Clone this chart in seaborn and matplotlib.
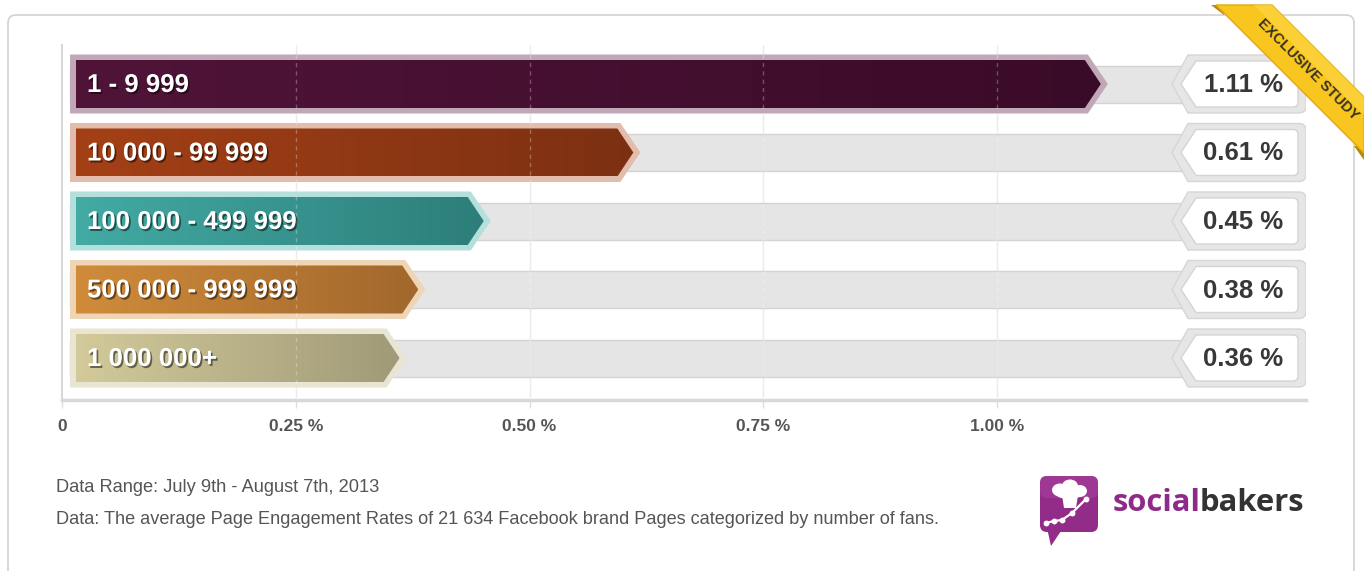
import numpy as np
import pandas as pd
import matplotlib
matplotlib.use("Agg")
import matplotlib.pyplot as plt
import seaborn as sns
from matplotlib.patches import Polygon, FancyBboxPatch, Ellipse, PathPatch
from matplotlib.path import Path
from matplotlib.colors import to_rgb
import matplotlib.patheffects as pe

# ---------------- data ----------------
categories = ["1 - 9 999", "10 000 - 99 999", "100 000 - 499 999",
              "500 000 - 999 999", "1 000 000+"]
values = [1.11, 0.61, 0.45, 0.38, 0.36]
value_labels = ["1.11 %", "0.61 %", "0.45 %", "0.38 %", "0.36 %"]
tick_values = [0, 0.25, 0.50, 0.75, 1.00]
tick_labels = ["0", "0.25 %", "0.50 %", "0.75 %", "1.00 %"]
range_note = "Data Range: July 9th - August 7th, 2013"
data_note = ("Data: The average Page Engagement Rates of 21 634 Facebook brand "
             "Pages categorized by number of fans.")
ribbon_text = "EXCLUSIVE STUDY"
brand_a = "social"
brand_b = "bakers"

# ---------------- styles ----------------
grad_left = ["#501439", "#a44016", "#43aaa4", "#d08c3b", "#d2ca9a"]
grad_right = ["#3a0b28", "#7c3012", "#2d7e7a", "#a1672c", "#a09a78"]
border_cols = ["#c0a8b8", "#e2bcac", "#b4dfdb", "#edd5b5", "#e8e5d2"]

sns.set_theme(style="white")
plt.rcParams['font.family'] = ['Liberation Sans', 'DejaVu Sans']

W, H = 1364, 571
fig = plt.figure(figsize=(W / 100, H / 100), dpi=100)
fig.patch.set_facecolor('white')

AX_L, AX_R, AX_T, AX_B = 62, 1306, 45, 400
PXX = 935.0   # pixels per 1.0 %
PXY = 68.5    # pixels per category step
ax = fig.add_axes([AX_L / W, 1 - AX_B / H, (AX_R - AX_L) / W, (AX_B - AX_T) / H])


def dx(p):
    return p / PXX


def dy(p):
    return p / PXY


def tag_path(xt, xs, xr, yc, h, rx, ry):
    """Left-pointing tag with rounded right corners (data coords)."""
    verts = [(xt, yc), (xs, yc - h), (xr - rx, yc - h), (xr, yc - h),
             (xr, yc - h + ry), (xr, yc + h - ry), (xr, yc + h),
             (xr - rx, yc + h), (xs, yc + h), (xt, yc)]
    codes = [Path.MOVETO, Path.LINETO, Path.LINETO, Path.CURVE3, Path.CURVE3,
             Path.LINETO, Path.CURVE3, Path.CURVE3, Path.LINETO, Path.CLOSEPOLY]
    return Path(verts, codes)


df = pd.DataFrame({"category": categories, "value": values})
sns.barplot(data=df, x="value", y="category", orient="h", ax=ax,
            color="#000000", width=0.8)
bars = list(ax.patches)

xlim = (0, dx(AX_R - AX_L))
ylim = (4 + dy(AX_B - 358), -dy(84 - AX_T))

renderer = fig.canvas.get_renderer()


def fit(t, target):
    w = t.get_window_extent(renderer=renderer).width
    t.set_fontsize(t.get_fontsize() * target / w)


x_track_end = dx(1300 - AX_L)
for i, bar in enumerate(bars):
    yc = bar.get_y() + bar.get_height() / 2
    v = bar.get_width()
    bar.set_visible(False)
    x0 = dx(8)
    # gray track
    th = dy(18.5)
    ax.add_patch(Polygon([(x0, yc - th), (x_track_end, yc - th),
                          (x_track_end, yc + th), (x0, yc + th)],
                         closed=True, fc="#e5e5e5", ec="#d4d4d4", lw=1, zorder=2))
    # outer (light) arrow
    tip = x0 + v
    oh = dy(29.5)
    s = dx(20)
    ax.add_patch(Polygon([(x0, yc - oh), (tip - s, yc - oh), (tip, yc),
                          (tip - s, yc + oh), (x0, yc + oh)],
                         closed=True, fc=border_cols[i], ec='none', zorder=3))
    # inner gradient arrow
    ih = dy(24)
    xi = x0 + dx(6)
    tip_in = tip - dx(7)
    s_in = dx(16)
    inner = Polygon([(xi, yc - ih), (tip_in - s_in, yc - ih), (tip_in, yc),
                     (tip_in - s_in, yc + ih), (xi, yc + ih)],
                    closed=True, fc='none', ec='none', zorder=4)
    ax.add_patch(inner)
    g = np.linspace(0, 1, 256)
    c0 = np.array(to_rgb(grad_left[i]))
    c1 = np.array(to_rgb(grad_right[i]))
    img = (c0[None, :] * (1 - g)[:, None] + c1[None, :] * g[:, None])[None, :, :]
    im = ax.imshow(img, extent=[xi, tip_in, yc + ih, yc - ih], aspect='auto',
                   interpolation='bilinear', zorder=4)
    im.set_clip_path(inner)
    # category label
    ax.text(dx(87 - AX_L), yc + dy(1), categories[i], color='white',
            fontsize=18.6, fontweight='bold', va='center', ha='left', zorder=7,
            path_effects=[pe.withSimplePatchShadow(offset=(1.2, -1.4),
                                                   shadow_rgbFace=(0, 0, 0),
                                                   alpha=0.5)])
    # value box
    bh = dy(29)
    ax.add_patch(PathPatch(tag_path(dx(1172 - AX_L), dx(1188 - AX_L),
                                    dx(1306 - AX_L), yc, bh, dx(7), dy(7)),
                           fc="#e6e6e6", ec="#d6d6d6", lw=1, zorder=5))
    ibh = dy(23)
    ax.add_patch(PathPatch(tag_path(dx(1181 - AX_L), dx(1196 - AX_L),
                                    dx(1298 - AX_L), yc, ibh, dx(5), dy(5)),
                           fc="white", ec="#d4d4d4", lw=1, zorder=6))
    ax.text(dx(1243 - AX_L), yc + dy(1), value_labels[i], color="#383838",
            fontsize=18.5, fontweight='bold', ha='center', va='center', zorder=7)

# gridlines
for tv in tick_values[1:]:
    ax.axvline(tv, color="#e9e9e9", lw=1, zorder=1)
    ax.axvline(tv, color="white", lw=1, ls=(0, (3, 3)), alpha=0.28, zorder=4.5)

ax.set_xlim(*xlim)
ax.set_ylim(*ylim)
ax.set_xticks(tick_values)
ax.set_xticklabels(tick_labels, fontweight='bold')
ax.set_yticks([])
ax.set_xlabel("")
ax.set_ylabel("")
ax.tick_params(axis='x', bottom=True, length=6, width=1, color="#dedede",
               labelsize=12.5, labelcolor="#555555", pad=8)
for sp in ["top", "right"]:
    ax.spines[sp].set_visible(False)
ax.spines["left"].set_color("#d8d8d8")
ax.spines["left"].set_linewidth(1.5)
ax.spines["bottom"].set_color("#d8d8d8")
ax.spines["bottom"].set_linewidth(2.5)
ax.patch.set_alpha(0)

# ---------------- overlay: frame, ribbon, footer, logo ----------------
ov = fig.add_axes([0, 0, 1, 1], zorder=10)
ov.set_xlim(0, W)
ov.set_ylim(H, 0)
ov.axis('off')
ov.patch.set_alpha(0)

ov.add_patch(FancyBboxPatch((8, 15), 1346, 620,
                            boxstyle="round,pad=0,rounding_size=8",
                            fc='none', ec='#d2d2d2', lw=1.2))

# ribbon
ov.add_patch(Polygon([(1211, 5), (1224, 5), (1224, 15)], closed=True,
                     fc="#b88a0c", ec='none'))
ov.add_patch(Polygon([(1354, 146), (1364, 146), (1364, 160)], closed=True,
                     fc="#b88a0c", ec='none'))
ov.add_patch(Polygon([(1216, 5), (1272, 5), (1364, 97), (1364, 153)],
                     closed=True, fc="#f8c61e", ec="#e4a90e", lw=1))
ov.add_patch(Polygon([(1254, 5), (1272, 5), (1364, 97), (1364, 115)],
                     closed=True, fc="#fdd642", ec='none', alpha=0.7))
ov.text(1308, 69, ribbon_text, rotation=-45, rotation_mode='anchor',
        ha='center', va='center', fontsize=10.5, fontweight='bold',
        color="#3a3320")

# footer
t1 = ov.text(56, 487, range_note, ha='left', va='center', fontsize=11,
             color="#555555")
t2 = ov.text(56, 519, data_note, ha='left', va='center', fontsize=11,
             color="#555555")
fit(t1, 323)
fit(t2, 884)

# logo icon
ov.add_patch(FancyBboxPatch((1040, 476), 58, 56,
                            boxstyle="round,pad=0,rounding_size=7",
                            fc="#932b89", ec='none'))
ov.add_patch(Polygon([(1047, 528), (1063, 528), (1051, 546)], closed=True,
                     fc="#932b89", ec='none'))
ov.add_patch(FancyBboxPatch((1040, 476), 58, 22,
                            boxstyle="round,pad=0,rounding_size=7",
                            fc="#a8409e", ec='none', alpha=0.6))
for (cx, cy, w_, h_) in [(1060, 490, 16, 13), (1070, 486, 16, 13),
                         (1080, 491, 14, 12), (1069, 494, 26, 10)]:
    ov.add_patch(Ellipse((cx, cy), w_, h_, fc='white', ec='none'))
ov.add_patch(Polygon([(1062, 495), (1078, 495), (1076, 508), (1064, 508)],
                     closed=True, fc='white', ec='none'))
ov.plot([1046, 1054, 1062, 1072, 1086], [523, 521, 520, 513, 499],
        color='white', lw=1.6, marker='o', ms=3.2, mfc='white', mec='white')

tb1 = ov.text(1113, 503, brand_a, ha='left', va='center', fontsize=22,
              fontweight='bold', color="#8e2b8a",
              family=['Open Sans', 'DejaVu Sans'])
tb2 = ov.text(1200, 503, brand_b, ha='left', va='center', fontsize=22,
              fontweight='bold', color="#333333",
              family=['Open Sans', 'DejaVu Sans'])
w1 = tb1.get_window_extent(renderer=renderer).width
w2 = tb2.get_window_extent(renderer=renderer).width
scale = 192 / (w1 + w2)
tb1.set_fontsize(22 * scale)
tb2.set_fontsize(22 * scale)
w1 = tb1.get_window_extent(renderer=renderer).width
tb2.set_x(1113 + w1 - 1)

fig.savefig("out.png", dpi=100, facecolor='white')
